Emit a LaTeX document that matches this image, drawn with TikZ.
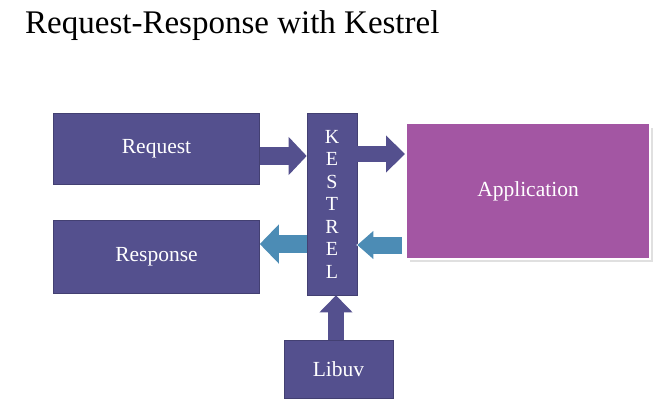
\documentclass[tikz,border=0pt]{standalone}
\usepackage{fontspec}
\setmainfont{Liberation Serif}
\usetikzlibrary{arrows.meta}

\definecolor{boxpurple}{RGB}{84,80,142}
\definecolor{appmagenta}{RGB}{163,86,163}
\definecolor{arrowblue}{RGB}{76,140,181}

\tikzset{
    block/.style={rectangle, fill=boxpurple, draw=boxpurple!80!black, line width=0.6pt, text=white, font=\fontsize{21.5}{24}\selectfont},
    fwd/.style={boxpurple, line width=18pt, -{Triangle[length=18pt,width=37pt]}},
    back/.style={arrowblue, line width=17pt, -{Triangle[length=18pt,width=36pt]}},
}

\begin{document}
\begin{tikzpicture}[x=1pt, y=-1pt]
    \useasboundingbox (0,0) rectangle (658,400);

    % Title
    \node[anchor=base west, inner sep=0pt, font=\fontsize{33}{38}\selectfont] (title) at (25,33) {Request-Response with Kestrel};

    % Draw nodes
    \node[block, minimum width=206pt, minimum height=71pt] (req) at (156.5,148.5) {Request};
    \node[block, minimum width=206pt, minimum height=73pt] (resp) at (156.5,256.5) {Response};
    \node[block, minimum width=50pt, minimum height=182pt, align=center, font=\fontsize{20}{22.5}\selectfont] (kes) at (332,204) {K\\E\\S\\T\\R\\E\\L};
    \fill[black!12] (410,128) rectangle (653,262); % shadow
    \node[block, fill=appmagenta, draw=white, line width=2pt, minimum width=244pt, minimum height=136pt] (app) at (528,191) {Application};
    \node[block, minimum width=109pt, minimum height=58pt] (lib) at (338.5,369) {Libuv};

    % Draw block arrows
    \draw[fwd] ([yshift=-7.5pt]req.east) -- ([yshift=-7.5pt]kes.west |- req.east); % Request to Kestrel
    \draw[fwd, line width=16pt, -{Triangle[length=19pt,width=36pt]}] (kes.east |- 0,154) -- (app.west |- 0,154); % Kestrel to Application
    \draw[white, line width=21pt, -{Triangle[length=20pt,width=33pt]}] ([xshift=-1pt]app.west |- 0,245) -- ([xshift=-1pt]kes.east |- 0,245);
    \draw[back, line width=17pt, -{Triangle[length=16pt,width=27pt]}] ([xshift=-3pt]app.west |- 0,245) -- (kes.east |- 0,245); % Application to Kestrel
    \draw[back, line width=18pt, -{Triangle[length=19pt,width=38pt]}] (kes.west |- 0,244) -- (resp.east |- 0,244); % Kestrel to Response
    \draw[fwd, line width=16pt, -{Triangle[length=17pt,width=32pt]}] (lib.north -| 336,0) -- (kes.south -| 336,0); % Libuv to Kestrel
\end{tikzpicture}
\end{document}
